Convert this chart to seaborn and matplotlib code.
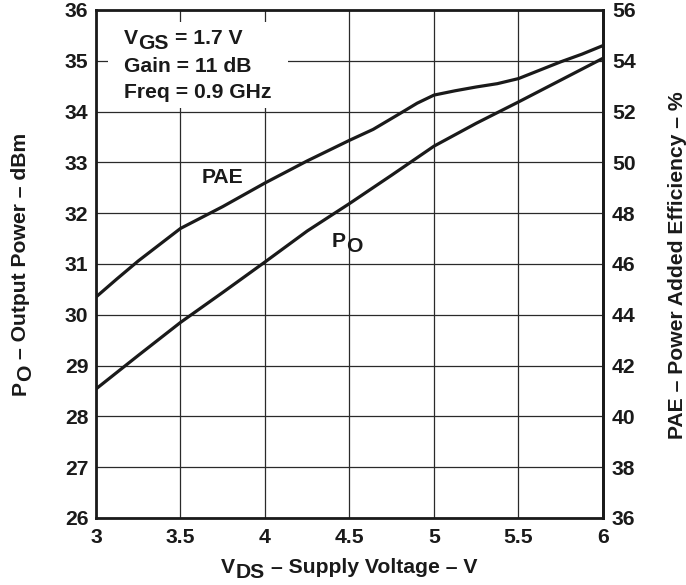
import matplotlib
matplotlib.use('Agg')
import matplotlib.pyplot as plt
import seaborn as sns
from matplotlib.transforms import offset_copy
from matplotlib.patches import Rectangle

# ---------------- data ----------------
vds_po = [3.0, 3.25, 3.5, 3.75, 4.0, 4.25, 4.5, 4.75, 5.0, 5.25, 5.5, 5.75, 6.0]
po_dbm = [28.54, 29.20, 29.85, 30.44, 31.04, 31.65, 32.19, 32.75, 33.32, 33.77, 34.19, 34.62, 35.05]

vds_pae = [3.0, 3.125, 3.25, 3.5, 3.75, 4.0, 4.25, 4.5, 4.64, 4.8, 4.9, 5.0,
           5.125, 5.25, 5.375, 5.5, 5.625, 5.75, 5.875, 6.0]
pae_pct = [44.7, 45.42, 46.12, 47.4, 48.26, 49.19, 50.06, 50.87, 51.3, 51.93, 52.33, 52.65,
           52.82, 52.97, 53.1, 53.3, 53.63, 53.96, 54.26, 54.6]

x_ticks = [3, 3.5, 4, 4.5, 5, 5.5, 6]
x_tick_labels = ['3', '3.5', '4', '4.5', '5', '5.5', '6']
po_ticks = list(range(26, 37))
pae_ticks = list(range(36, 57, 2))

# ---------------- style ----------------
sns.set_theme(style='white')
plt.rcParams['font.family'] = ['Liberation Sans', 'DejaVu Sans']
plt.rcParams['font.weight'] = 'bold'
FS = 15.2
INK = '#1a1a1a'

fig = plt.figure(figsize=(6.86, 5.85), dpi=100)
ax = fig.add_axes([96 / 686, 67 / 585, 507 / 686, 508 / 585])

ax.set_xlim(3, 6)
ax.set_ylim(26, 36)
ax.set_xticks(x_ticks)
ax.set_xticklabels(x_tick_labels)
ax.set_yticks(po_ticks)
ax.grid(True, color='#2a2a2a', lw=0.9)
ax.set_axisbelow(True)
ax.tick_params(length=0, labelsize=FS, colors=INK)
ax.tick_params(axis='y', pad=5.5)
ax.tick_params(axis='x', pad=7)
for s in ax.spines.values():
    s.set_linewidth(2)
    s.set_color(INK)

# white box behind the condition text
ax.add_patch(Rectangle((3.071, 34.07), 4.136 - 3.071, 35.76 - 34.07,
                       facecolor='white', edgecolor='none', zorder=1))

sns.lineplot(x=vds_po, y=po_dbm, ax=ax, color=INK, lw=2.3, zorder=3)

ax2 = ax.twinx()
sns.lineplot(x=vds_pae, y=pae_pct, ax=ax2, color=INK, lw=2.3)
ax2.set_ylim(36, 56)
ax2.set_yticks(pae_ticks)
ax2.set_ylabel('')
ax.set_ylabel('')
ax.set_xlabel('')
ax2.grid(False)
ax2.tick_params(length=0, labelsize=FS, pad=6.5, colors=INK)
for k, s in ax2.spines.items():
    s.set_visible(k == 'right')
    s.set_linewidth(2)
    s.set_color(INK)

# ---------------- rich text helper (full-size lowered subscripts) ----------------
renderer = fig.canvas.get_renderer()


def measure(s):
    t = fig.text(0, 0, s, fontsize=FS, fontweight='bold')
    w = t.get_window_extent(renderer).width
    t.remove()
    return w


def rich(x, y, parts, transform, rotation=0, align='left', drop=5):
    widths = [measure(s) for s, _, _ in parts]
    total = sum(widths) + sum(g for _, _, g in parts)
    pos = {'left': 0, 'center': -total / 2}[align]
    for (s, sub, gap), w in zip(parts, widths):
        pos += gap
        d = drop if sub else 0
        if rotation == 0:
            dx, dy = pos, -d
        else:
            dx, dy = d, pos
        tr = offset_copy(transform, fig=fig, x=dx, y=dy, units='dots')
        fig.text(x, y, s, transform=tr, rotation=rotation, rotation_mode='anchor',
                 ha='left', va='baseline', fontsize=FS, fontweight='bold', color=INK,
                 zorder=5)
        pos += w


# condition text
rich(3.166, 35.33, [('V', False, 0), ('GS', True, 0), ('= 1.7 V', False, 6)], ax.transData)
rich(3.166, 34.78, [('Gain = 11 dB', False, 0)], ax.transData)
rich(3.166, 34.27, [('Freq = 0.9 GHz', False, 0)], ax.transData)

# curve labels
ax.text(3.746, 32.70, 'PAE', ha='center', va='center', fontsize=FS,
        fontweight='bold', color=INK, zorder=5)
rich(4.396, 31.34, [('P', False, 0), ('O', True, 0.5)], ax.transData)

# axis labels
rich(349.5 / 686, 12 / 585, [('V', False, 0), ('DS', True, 0.5), ('– Supply Voltage – V', False, 6)],
     fig.transFigure, align='center')
rich(26 / 686, (585 - 264) / 585, [('P', False, 0), ('O', True, 0.5),
                                   ('– Output Power – dBm', False, 6)],
     fig.transFigure, rotation=90, align='center')
rich(683 / 686, (585 - 265) / 585, [('PAE – Power Added Efficiency – %', False, 0)],
     fig.transFigure, rotation=90, align='center')

fig.savefig('out.png', dpi=100)
